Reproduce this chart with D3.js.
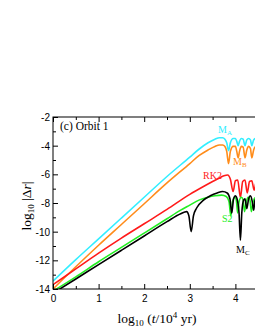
<!DOCTYPE html>
<html>
<head>
<meta charset="utf-8">
<style>
body { margin: 0; background: #fff; }
svg { font-family: "Liberation Serif", "Times New Roman", serif; }
.axis path, .axis line { stroke: #000; stroke-width: 1px; fill: none; }
.axis text { font-size: 10px; fill: #000; }
.curve { fill: none; stroke-width: 1.6px; }
.lbl { font-size: 10px; }
</style>
</head>
<body>
<script src="https://cdn.jsdelivr.net/npm/d3@7"></script>
<script>
// values: [log10 t, log10 |dr|]
var maPts = [[0,-13.45],[0.5,-11.95],[1,-10.5],[1.5,-9.05],[2,-7.6],[2.5,-6.15],[3,-4.8],[3.2,-4.25],[3.4,-3.8],[3.55,-3.55],[3.65,-3.45],[3.72,-3.45],[3.77,-3.55],[3.81,-3.8],[3.85,-4.35],[3.89,-3.8],[3.95,-3.5],[4.0,-3.5],[4.03,-3.7],[4.06,-4.0],[4.09,-3.7],[4.13,-3.5],[4.17,-3.55],[4.21,-4.0],[4.25,-3.6],[4.29,-3.5],[4.33,-3.6],[4.36,-4.0],[4.4,-3.6],[4.45,-3.5],[4.5,-3.6]];
var mbPts = [[0,-14.0],[0.5,-12.45],[1,-10.95],[1.5,-9.5],[2,-8.05],[2.5,-6.6],[3,-5.25],[3.2,-4.7],[3.4,-4.3],[3.55,-4.05],[3.65,-3.95],[3.72,-3.95],[3.77,-4.05],[3.81,-4.4],[3.85,-5.25],[3.89,-4.4],[3.95,-4.05],[4.0,-4.05],[4.03,-4.4],[4.06,-4.85],[4.09,-4.4],[4.13,-4.05],[4.17,-4.1],[4.21,-4.85],[4.25,-4.3],[4.29,-4.05],[4.33,-4.2],[4.36,-4.85],[4.4,-4.3],[4.45,-4.05],[4.5,-4.2]];
var rk2Pts = [[0,-13.7],[0.5,-12.6],[1,-11.5],[1.5,-10.45],[2,-9.45],[2.5,-8.45],[3,-7.4],[3.3,-6.85],[3.5,-6.5],[3.65,-6.25],[3.75,-6.1],[3.83,-6.05],[3.89,-6.35],[3.95,-7.2],[4.0,-6.45],[4.05,-6.4],[4.11,-7.6],[4.16,-6.5],[4.21,-6.4],[4.26,-7.3],[4.31,-6.5],[4.36,-6.45],[4.41,-7.1],[4.46,-6.5],[4.5,-6.45]];
var s2Pts = [[0,-14.15],[0.5,-13.15],[1,-12.1],[1.5,-11.1],[2,-10.1],[2.5,-9.1],[2.8,-8.5],[3,-8.15],[3.2,-7.8],[3.4,-7.6],[3.55,-7.5],[3.7,-7.45],[3.8,-7.55],[3.86,-7.9],[3.9,-8.9],[3.94,-7.9],[3.99,-7.6],[4.02,-7.8],[4.05,-8.7],[4.08,-7.9],[4.13,-7.6],[4.17,-7.8],[4.2,-8.6],[4.24,-7.9],[4.28,-7.6],[4.32,-7.8],[4.35,-8.6],[4.39,-7.9],[4.45,-7.6],[4.5,-7.8]];
var mcPts = [[0,-14.3],[0.5,-13.3],[1,-12.3],[1.5,-11.3],[2,-10.3],[2.5,-9.3],[2.8,-8.75],[2.93,-8.6],[2.98,-8.9],[3.03,-10.0],[3.08,-8.9],[3.15,-8.35],[3.3,-7.8],[3.45,-7.5],[3.6,-7.3],[3.72,-7.2],[3.82,-7.3],[3.88,-7.7],[3.92,-8.7],[3.96,-7.7],[4.0,-7.5],[4.05,-7.9],[4.08,-8.7],[4.11,-10.6],[4.14,-8.7],[4.18,-7.8],[4.21,-7.7],[4.25,-8.4],[4.29,-7.7],[4.33,-7.5],[4.37,-7.9],[4.4,-8.5],[4.43,-7.8],[4.5,-7.6]];

var xMajor = [0, 1, 2, 3, 4];
var xMinor = [0.5, 1.5, 2.5, 3.5, 4.5];
var yMajor = [-2, -4, -6, -8, -10, -12, -14];
var yMinor = [-3, -5, -7, -9, -11, -13];

var series = [
  { name: "MA", pts: maPts, color: "#33eeff" },
  { name: "MB", pts: mbPts, color: "#ff8c1a" },
  { name: "RK2", pts: rk2Pts, color: "#ff1a1a" },
  { name: "S2", pts: s2Pts, color: "#22ee22" },
  { name: "MC", pts: mcPts, color: "#000000" }
];

var W = 255, H = 330;
var pL = 53, pT = 117, pR = 281, pB = 289;

var svg = d3.select("body").append("svg")
  .attr("width", W)
  .attr("height", H);

var x = d3.scaleLinear().domain([0, 5]).range([pL, pR]);
var y = d3.scaleLinear().domain([-14, -2]).range([pB, pT]);

svg.append("clipPath").attr("id", "clip")
  .append("rect")
  .attr("x", pL).attr("y", pT)
  .attr("width", pR - pL).attr("height", pB - pT);

var line = d3.line()
  .x(function(d) { return x(d[0]); })
  .y(function(d) { return y(d[1]); })
  .curve(d3.curveMonotoneX);

svg.append("g").attr("clip-path", "url(#clip)")
  .selectAll("path")
  .data(series)
  .enter().append("path")
  .attr("class", "curve")
  .attr("stroke", function(d) { return d.color; })
  .attr("d", function(d) { return line(d.pts); });

// axes, ticks inward
function ax(gen, tr, vals, size, labels) {
  var g = svg.append("g").attr("class", "axis").attr("transform", tr)
    .call(gen.tickValues(vals).tickSize(size).tickPadding(labels ? 3 : 0)
      .tickFormat(labels ? function(d) { return d; } : ""));
  g.select(".domain").remove();
  return g;
}
ax(d3.axisBottom(x), "translate(0," + pB + ")", xMajor, -5, true)
  .selectAll("text").attr("dy", "0.75em").attr("y", 5);
ax(d3.axisBottom(x), "translate(0," + pB + ")", xMinor, -3, false);
ax(d3.axisTop(x), "translate(0," + pT + ")", xMajor, -5, false);
ax(d3.axisTop(x), "translate(0," + pT + ")", xMinor, -3, false);
ax(d3.axisLeft(y), "translate(" + pL + ",0)", yMajor, -5, true)
  .selectAll("text").attr("x", -3).attr("dy", "0.35em");
ax(d3.axisLeft(y), "translate(" + pL + ",0)", yMinor, -3, false);

svg.append("rect")
  .attr("x", pL).attr("y", pT)
  .attr("width", pR - pL).attr("height", pB - pT)
  .attr("fill", "none").attr("stroke", "#000").attr("stroke-width", 1);

svg.append("text")
  .attr("x", 60).attr("y", 130)
  .style("font-size", "11.5px")
  .text("(c) Orbit 1");

// curve labels
function lab(px, py, main, sub, color) {
  var t = svg.append("text").attr("class", "lbl")
    .attr("x", px).attr("y", py).attr("fill", color);
  t.append("tspan").text(main);
  if (sub) t.append("tspan").attr("dy", 2).style("font-size", "7px").text(sub);
}
lab(218, 133, "M", "A", "#33eeff");
lab(233, 165, "M", "B", "#ff8c1a");
lab(203, 179, "RK2", null, "#ff1a1a");
lab(222, 222, "S2", null, "#22ee22");
lab(236, 253, "M", "C", "#000");

// axis titles
var xt = svg.append("text")
  .attr("x", 157).attr("y", 323)
  .attr("text-anchor", "middle")
  .style("font-size", "13.5px");
xt.append("tspan").text("log");
xt.append("tspan").attr("dy", 3).style("font-size", "9px").text("10");
xt.append("tspan").attr("dy", -3).text(" (");
xt.append("tspan").style("font-style", "italic").text("t");
xt.append("tspan").text("/10");
xt.append("tspan").attr("dy", -5).style("font-size", "9px").text("4");
xt.append("tspan").attr("dy", 5).text(" yr)");

var yt = svg.append("text")
  .attr("transform", "translate(31,206) rotate(-90)")
  .attr("text-anchor", "middle")
  .style("font-size", "13.5px");
yt.append("tspan").text("log");
yt.append("tspan").attr("dy", 3).style("font-size", "9px").text("10");
yt.append("tspan").attr("dy", -3).text(" |\u0394");
yt.append("tspan").style("font-style", "italic").text("r");
yt.append("tspan").text("|");
</script>
</body>
</html>
